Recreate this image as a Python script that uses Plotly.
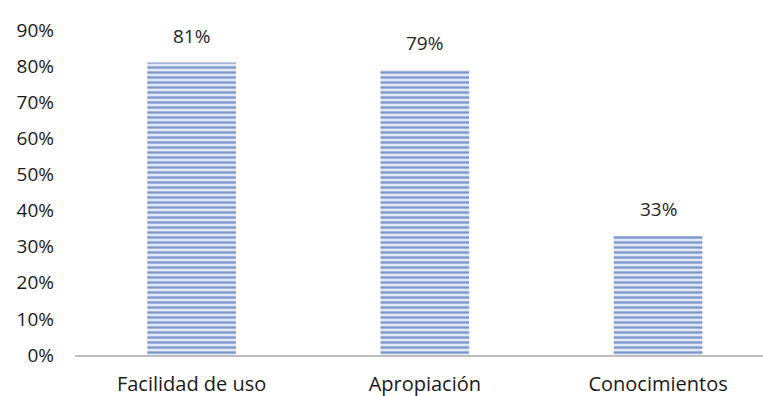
import plotly.graph_objects as go

categories = ["Facilidad de uso", "Apropiación", "Conocimientos"]
values = [0.81, 0.79, 0.33]
labels = ["81%", "79%", "33%"]
y_ticks = [0, 0.1, 0.2, 0.3, 0.4, 0.5, 0.6, 0.7, 0.8, 0.9]
y_ticktext = ["0%", "10%", "20%", "30%", "40%", "50%", "60%", "70%", "80%", "90%"]

FONT = "Open Sans"
FS = 20

fig = go.Figure()
fig.add_trace(go.Bar(
    x=list(range(len(categories))),
    y=values,
    width=0.38,
    marker=dict(
        color="#dfe7f5",
        line=dict(width=0),
        pattern=dict(shape="-", fgcolor="#7b96cb", bgcolor="#e0e8f6",
                     size=5, solidity=0.45, fillmode="replace"),
    ),
    hoverinfo="skip",
))

for i, (v, t) in enumerate(zip(values, labels)):
    fig.add_annotation(x=i, y=v, text=t, showarrow=False, yshift=27,
                       font=dict(family=FONT, size=FS - 1, color="#262626"))

fig.update_layout(
    width=763, height=396,
    margin=dict(l=75, r=0, t=30, b=41),
    paper_bgcolor="white", plot_bgcolor="white",
    showlegend=False,
    font=dict(family=FONT, size=FS, color="#1a1a1a"),
    xaxis=dict(
        range=[-0.5, 2.45],
        tickvals=list(range(len(categories))),
        ticktext=categories,
        showgrid=False, zeroline=False,
        showline=True, linecolor="#bfbfbf", linewidth=2,
        ticks="", ticklabelstandoff=10,
        tickfont=dict(family=FONT, size=FS, color="#1a1a1a"),
    ),
    yaxis=dict(
        range=[0, 0.9],
        tickvals=y_ticks, ticktext=y_ticktext,
        showgrid=False, zeroline=False, showline=False,
        ticks="", ticklabelstandoff=20,
        tickfont=dict(family=FONT, size=FS - 1, color="#1a1a1a"),
    ),
)

fig.write_html("out.html")
